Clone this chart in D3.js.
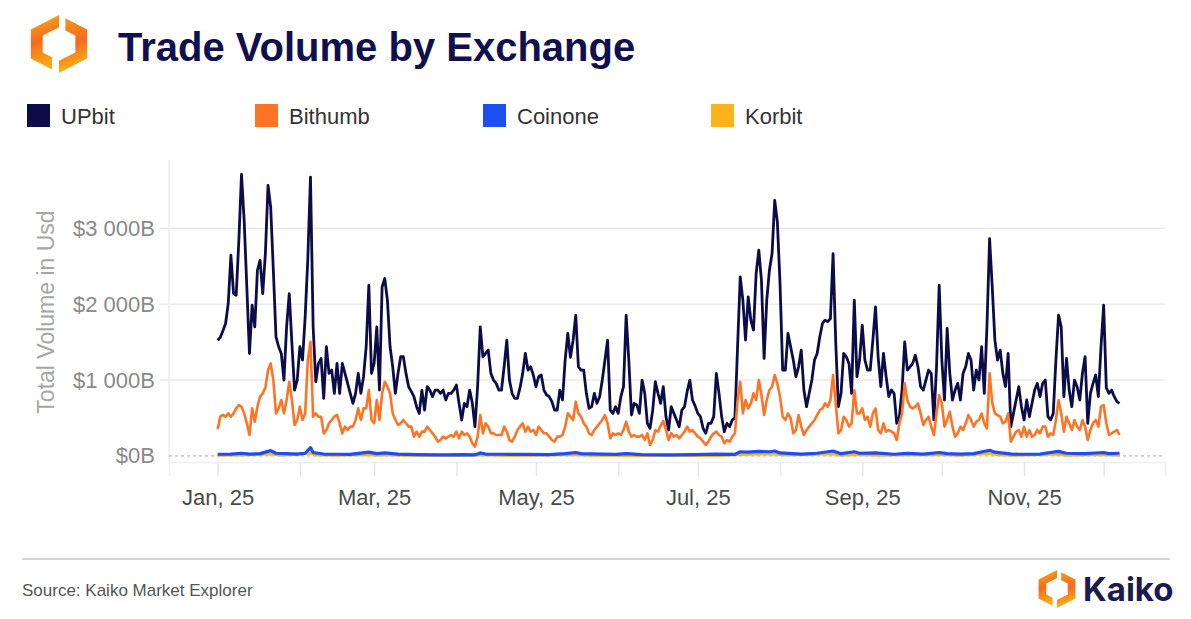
<!DOCTYPE html>
<html>
<head>
<meta charset="utf-8">
<script src="https://cdn.jsdelivr.net/npm/d3@7"></script>
<style>
  body { margin: 0; background: #fff; }
  svg { display: block; font-family: "Liberation Sans", Arial, sans-serif; }
</style>
</head>
<body>
<svg id="chart"></svg>
<script>
// series names + colours, legend order
const seriesNames = ["UPbit", "Bithumb", "Coinone", "Korbit"];
const seriesColors = ["#0c0c48", "#ff7424", "#1c4ef2", "#fbb31b"];

// daily values in $B, one per day starting 1 Jan 2025
const startDate = new Date(2025, 0, 1);
const upbit = [
  1526,1560,1650,1745,2009,2645,2140,2118,2842,3710,
  3105,2228,1350,1987,1700,2447,2579,2140,2667,3566,
  3280,2447,1570,1439,1350,1000,1702,2140,1482,868,
  1000,1439,1263,1833,2600,3675,1702,978,1219,1285,
  759,1439,1088,1132,825,1219,825,1219,1088,956,
  825,693,825,1088,825,1044,1439,2250,1088,1219,
  1702,868,2228,2338,2053,1439,1175,825,1088,1307,
  1307,1088,912,850,781,649,561,868,605,912,
  868,781,868,868,825,868,737,825,825,868,
  934,693,474,693,649,868,700,386,912,1702,
  1307,1351,1395,1088,1000,956,868,868,1175,1526,
  1000,825,759,759,900,1088,1351,1132,1175,1066,
  912,1044,1066,868,803,781,715,605,605,868,
  737,1263,1614,1300,1526,1855,1175,1132,1132,825,
  627,649,825,693,781,1000,1263,1526,605,561,
  649,561,781,912,1855,1263,539,693,671,561,
  1000,825,430,364,600,978,825,693,912,518,
  342,649,561,474,386,605,649,850,1000,737,
  660,561,518,364,298,430,430,518,1088,825,
  518,320,430,386,474,500,1439,2360,2053,1526,
  2096,1789,1658,2404,2711,2316,1285,2053,2447,2667,
  3368,3083,2272,1132,1132,1614,1439,1263,1044,1175,
  1395,868,649,825,1000,1263,1351,1570,1746,1789,
  1770,1811,2667,1500,649,825,1351,1307,1219,825,
  2053,1044,1263,1724,1263,1132,1132,1526,1965,1300,
  912,1351,1044,781,868,825,430,518,868,1504,
  1132,1175,1219,1329,1175,912,868,1000,1132,1088,
  474,1175,2250,1263,737,1680,1088,737,868,956,
  737,1088,1175,1351,1263,868,1132,1000,1439,825,
  1702,2864,2228,1526,1263,1395,1088,912,1351,386,
  561,737,912,649,474,737,518,693,868,956,
  781,956,1000,518,474,561,1263,1855,1702,781,
  1285,868,649,1000,912,737,1088,1307,430,825,
  956,1066,781,1439,1987,900,825,868,781,715,
  693
];
const bithumb = [
  351,517,540,517,561,517,561,627,671,649,
  561,430,276,627,451,649,781,825,900,1132,
  1219,1000,561,627,737,561,737,978,737,408,
  474,649,474,561,1263,1504,517,561,517,517,
  298,342,430,474,517,540,430,298,386,342,
  386,386,474,627,474,627,627,868,474,430,
  737,474,825,978,912,825,561,474,408,430,
  474,430,386,386,254,320,254,320,320,386,
  342,298,254,188,210,254,232,254,276,254,
  320,232,320,276,298,254,167,123,254,539,
  298,430,386,298,298,276,276,276,386,320,
  210,188,254,342,386,430,320,386,320,342,
  276,386,342,298,298,254,210,188,254,254,
  276,386,561,517,474,715,561,517,430,386,
  298,276,342,386,430,474,539,430,232,298,
  276,298,276,342,451,320,254,276,254,254,
  276,210,298,145,210,340,320,400,460,342,
  210,300,254,276,232,276,320,386,320,342,
  298,254,232,188,145,188,254,298,320,276,
  254,167,210,188,254,300,737,978,561,737,
  627,693,825,737,1000,803,539,737,868,912,
  1066,956,781,517,474,561,496,298,342,539,
  386,276,342,386,430,474,539,605,627,693,
  649,737,1066,700,298,342,517,474,386,430,
  868,561,561,627,474,517,386,561,627,342,
  298,430,320,342,320,298,210,430,561,956,
  737,649,627,649,693,561,408,474,517,386,
  276,561,803,693,386,474,583,386,254,298,
  386,342,430,539,474,386,451,474,561,430,
  364,1088,700,561,539,517,430,451,561,188,
  254,320,342,254,386,254,342,254,276,342,
  298,386,386,254,298,276,474,737,561,320,
  517,430,342,474,386,342,474,386,210,342,
  430,474,386,649,671,430,276,298,320,342,
  276
];
// small exchanges, read as [day, $B] where they could be made out
const coinone = [
  [0,22],[5,25],[9,35],[12,25],[16,30],[19,60],[20,70],[22,35],[26,30],[30,25],
  [33,35],[35,110],[36,45],[40,25],[45,22],[50,20],[57,50],[60,30],[63,40],[68,25],
  [75,18],[85,15],[92,18],[97,15],[99,40],[101,25],[108,22],[115,20],[125,18],[131,30],
  [135,45],[137,30],[145,25],[150,20],[154,30],[160,18],[170,15],[180,18],[188,25],[195,20],
  [197,55],[200,50],[204,60],[208,55],[210,65],[212,40],[220,25],[226,35],[232,65],[235,30],
  [240,55],[242,35],[248,40],[255,22],[260,35],[266,25],[272,45],[275,30],[280,25],[285,30],
  [291,75],[293,50],[298,30],[300,22],[310,25],[317,60],[320,35],[327,30],[334,45],[336,30],
  [340,35]
];
const korbit = [
  [0,8],[9,12],[19,25],[20,28],[24,10],[35,40],[37,12],[45,8],[57,20],[60,10],
  [63,15],[70,8],[90,5],[99,15],[110,6],[135,20],[140,8],[160,5],[190,5],[197,20],
  [204,25],[210,30],[213,12],[232,30],[235,10],[240,20],[250,8],[259,15],[272,20],[280,8],
  [291,35],[294,15],[300,8],[317,25],[320,10],[334,20],[340,10]
];
const yTicks = [0, 1000, 2000, 3000];

const W = 1191, H = 619;
const plot = { left: 169, right: 1165, top: 160, bottom: 462 };

const svg = d3.select("#chart").attr("width", W).attr("height", H);

const dayDate = i => d3.timeDay.offset(startDate, i);
const toPoints = arr => arr.map((v, i) => ({ date: dayDate(i), value: v }));
const pairPoints = arr => arr.map(p => ({ date: dayDate(p[0]), value: p[1] }));
const series = [toPoints(upbit), toPoints(bithumb), pairPoints(coinone), pairPoints(korbit)];

const x = d3.scaleTime()
  .domain([new Date(2024, 11, 13, 16), new Date(2025, 11, 24, 3)])
  .range([plot.left, plot.right]);
const y = d3.scaleLinear()
  .domain([-80, 3900])
  .range([plot.bottom, plot.top]);

// ---- logo (two hexagon halves) ----
function drawLogo(g, cx, cy, R, id) {
  const k = 0.58, sx = 0.97;
  const hex = r => [[0,-r],[sx*r,-r/2],[sx*r,r/2],[0,r],[-sx*r,r/2],[-sx*r,-r/2]];
  const O = hex(1), I = hex(k);
  const cut = (A, B, xc) => { const t = (xc - A[0]) / (B[0] - A[0]); return [xc, A[1] + t * (B[1] - A[1])]; };
  const g1 = -0.24, g2 = 0.22;
  const left = [O[0], O[5], O[4], cut(O[4], O[3], g1), cut(I[4], I[3], g1), I[4], I[5], I[0]];
  const right = [cut(O[0], O[1], g2), O[1], O[2], O[3], I[3], I[2], I[1], cut(I[0], I[1], g2)];
  const defs = g.append("defs");
  const grad = (gid, stops) => {
    const lg = defs.append("linearGradient").attr("id", gid).attr("x1", 0).attr("y1", 0).attr("x2", 0.2).attr("y2", 1);
    stops.forEach(s => lg.append("stop").attr("offset", s[0]).attr("stop-color", s[1]));
  };
  grad(id + "L", [[0, "#fdb515"], [0.5, "#f26a1f"], [1, "#fcaa17"]]);
  grad(id + "R", [[0, "#f89a1c"], [0.55, "#f26a1f"], [1, "#fdb515"]]);
  const line = d3.line().x(p => cx + p[0] * R).y(p => cy + p[1] * R);
  g.append("path").attr("d", line(left) + "Z").attr("fill", `url(#${id}L)`);
  g.append("path").attr("d", line(right) + "Z").attr("fill", `url(#${id}R)`);
}
drawLogo(svg.append("g"), 59, 44, 29, "logoTop");

svg.append("text")
  .attr("x", 118).attr("y", 61)
  .attr("font-size", 40).attr("font-weight", "bold")
  .attr("fill", "#10104e")
  .text("Trade Volume by Exchange");

// ---- legend ----
const legend = svg.append("g").selectAll("g")
  .data(seriesNames)
  .join("g")
  .attr("transform", (d, i) => `translate(${27 + i * 228}, 104)`);
legend.append("rect").attr("width", 23).attr("height", 23)
  .attr("fill", (d, i) => seriesColors[i]);
legend.append("text").attr("x", 34).attr("y", 20)
  .attr("font-size", 22).attr("fill", "#333")
  .text(d => d);

// ---- grid + frame ----
svg.append("g").selectAll("line")
  .data(yTicks.filter(v => v > 0))
  .join("line")
  .attr("x1", 159).attr("x2", plot.right)
  .attr("y1", d => y(d)).attr("y2", d => y(d))
  .attr("stroke", "#ebebeb").attr("stroke-width", 1.5);

svg.append("line")
  .attr("x1", plot.left).attr("x2", plot.left)
  .attr("y1", plot.top).attr("y2", plot.bottom)
  .attr("stroke", "#eeeeee").attr("stroke-width", 1.5);

svg.append("line")
  .attr("x1", plot.left).attr("x2", plot.right)
  .attr("y1", y(0)).attr("y2", y(0))
  .attr("stroke", "#a8a8a8").attr("stroke-dasharray", "3,3");

// y axis labels
const fmtY = v => "$" + d3.format(",")(v).replace(/,/g, " ") + "B";
const yAxis = svg.append("g")
  .attr("transform", `translate(${plot.left},0)`)
  .call(d3.axisLeft(y).tickValues(yTicks).tickFormat(fmtY).tickSize(0).tickPadding(14));
yAxis.select(".domain").remove();
yAxis.selectAll("text")
  .attr("font-size", 22).attr("fill", "#8a8a8a")
  .attr("font-family", '"Liberation Sans", Arial, sans-serif');

svg.append("text")
  .attr("transform", "translate(54,312) rotate(-90)")
  .attr("text-anchor", "middle")
  .attr("font-size", 23).attr("fill", "#a6a6a6")
  .text("Total Volume in Usd");

// x axis
const fmtX = d3.timeFormat("%b, %y");
const xAxis = svg.append("g")
  .attr("transform", `translate(0,${plot.bottom})`)
  .call(d3.axisBottom(x)
    .ticks(d3.timeMonth.every(1))
    .tickSize(14).tickPadding(13)
    .tickFormat(d => d.getMonth() % 2 === 0 ? fmtX(d) : ""));
xAxis.select(".domain").attr("stroke", "#eeeeee").attr("stroke-width", 1.5);
xAxis.selectAll(".tick line").attr("stroke", "#e6e6e6").attr("stroke-width", 1.5);
xAxis.selectAll("text")
  .attr("font-size", 22).attr("fill", "#4a4a4a")
  .attr("font-family", '"Liberation Sans", Arial, sans-serif');

// ---- lines (Korbit under Coinone, as in the source) ----
const line = d3.line().x(d => x(d.date)).y(d => y(d.value));
const widths = [2.8, 2.6, 3.2, 3];
const drawOrder = [0, 1, 3, 2];
svg.append("g").selectAll("path")
  .data(drawOrder)
  .join("path")
  .attr("d", i => line(series[i]))
  .attr("fill", "none")
  .attr("stroke", i => seriesColors[i])
  .attr("stroke-width", i => widths[i])
  .attr("stroke-linejoin", "round");

// ---- footer ----
svg.append("line")
  .attr("x1", 22).attr("x2", 1170).attr("y1", 559).attr("y2", 559)
  .attr("stroke", "#d4d4d4").attr("stroke-width", 2);
svg.append("text")
  .attr("x", 22).attr("y", 596)
  .attr("font-size", 17).attr("fill", "#555")
  .text("Source: Kaiko Market Explorer");
drawLogo(svg.append("g"), 1057, 589, 19, "logoFoot");
svg.append("text")
  .attr("x", 1083).attr("y", 601)
  .attr("font-family", "Inter, 'Liberation Sans', sans-serif")
  .attr("font-size", 33).attr("font-weight", 700)
  .attr("fill", "#1b1b4f")
  .text("Kaiko");
</script>
</body>
</html>
